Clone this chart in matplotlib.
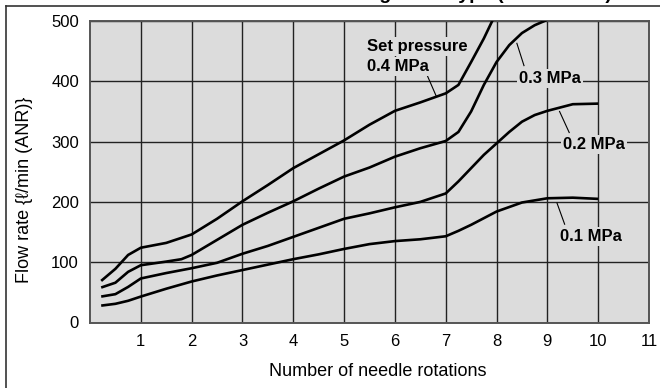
"""Flow rate vs. number of needle rotations, four set pressures."""
import matplotlib
matplotlib.use("Agg")
import matplotlib.pyplot as plt
from matplotlib.lines import Line2D

plt.rcParams["font.family"] = ["Liberation Sans", "DejaVu Sans"]

# --- data ---
x_01 = [0.22, 0.5, 0.75, 1.0, 1.5, 2.0, 2.5, 3.0, 3.5, 4.0, 4.5, 5.0, 5.5, 6.0, 6.5,
        7.0, 7.25, 7.5, 7.75, 8.0, 8.5, 9.0, 9.5, 10.0]
y_01 = [28, 31, 36, 43, 56, 68, 78, 87, 96, 105, 113, 122, 130, 135, 138,
        143, 152, 162, 173, 184, 199, 206, 207, 205]

x_02 = [0.22, 0.5, 0.75, 1.0, 1.5, 2.0, 2.5, 3.0, 3.5, 4.0, 4.5, 5.0, 5.5, 6.0, 6.5,
        7.0, 7.25, 7.5, 7.75, 8.0, 8.25, 8.5, 8.75, 9.0, 9.5, 10.0]
y_02 = [43, 47, 59, 73, 82, 90, 99, 114, 127, 142, 157, 172, 181, 191, 200,
        214, 234, 256, 278, 297, 316, 333, 344, 351, 362, 363]

x_03 = [0.22, 0.5, 0.75, 1.0, 1.5, 1.8, 2.0, 2.5, 3.0, 3.5, 4.0, 4.5, 5.0, 5.5, 6.0,
        6.5, 7.0, 7.25, 7.5, 7.75, 8.0, 8.25, 8.5, 8.75, 9.0]
y_03 = [58, 66, 84, 95, 101, 105, 112, 137, 162, 182, 201, 222, 242, 257, 275,
        289, 301, 316, 350, 394, 432, 460, 480, 493, 502]

x_04 = [0.22, 0.5, 0.75, 1.0, 1.5, 2.0, 2.5, 3.0, 3.5, 4.0, 4.5, 5.0, 5.5, 6.0, 6.5,
        7.0, 7.25, 7.5, 7.75, 8.0]
y_04 = [69, 89, 112, 124, 132, 146, 172, 201, 228, 256, 279, 302, 328, 351, 365,
        380, 394, 432, 471, 515]

x_ticks = list(range(1, 12))
y_ticks = [0, 100, 200, 300, 400, 500]

BG = "#dcdcdc"


def main():
    fig = plt.figure(figsize=(6.6, 3.88), dpi=100)
    ax = fig.add_axes([90 / 660, 1 - 322.5 / 388, 559 / 660, 301.5 / 388])
    ax.set_facecolor(BG)

    for xs, ys in [(x_01, y_01), (x_02, y_02), (x_03, y_03), (x_04, y_04)]:
        ax.plot(xs, ys, color="black", lw=1.9, solid_capstyle="butt", zorder=3)

    ax.set_xlim(0, 11); ax.set_ylim(0, 500)
    ax.set_xticks(x_ticks); ax.set_yticks(y_ticks)
    ax.tick_params(length=0, labelsize=12, pad=8)
    ax.tick_params(axis="y", pad=8)
    ax.grid(True, color="#222222", lw=1.0)
    ax.set_axisbelow(True)
    for s in ax.spines.values():
        s.set_color("#555555"); s.set_linewidth(1.4)

    # curve labels + leader lines
    box = dict(facecolor=BG, edgecolor="none", pad=1.5)
    kw = dict(fontsize=12, fontweight="bold", zorder=4)
    ax.text(5.45, 450, "Set pressure", ha="left", va="baseline", bbox=box, **kw)
    ax.text(5.45, 417, "0.4 MPa", ha="left", va="baseline", bbox=box, **kw)
    ax.text(9.06, 397, "0.3 MPa", ha="center", va="baseline", bbox=box, **kw)
    ax.text(9.92, 288, "0.2 MPa", ha="center", va="baseline", bbox=box, **kw)
    ax.text(9.86, 135, "0.1 MPa", ha="center", va="baseline", bbox=box, **kw)
    for (xa, ya), (xb, yb) in [((6.64, 409), (6.81, 376)), ((8.40, 463), (8.54, 426)),
                               ((9.24, 350), (9.43, 315)), ((9.19, 198), (9.34, 163))]:
        ax.plot([xa, xb], [ya, yb], color="black", lw=0.8, zorder=3)

    fig.text(378 / 660, 1 - 372 / 388, "Number of needle rotations", ha="center", va="center", fontsize=13)
    fig.text(25 / 660, 1 - 190 / 388, "Flow rate {ℓ/min (ANR)}", rotation=90,
             ha="center", va="center", fontsize=13)

    # title is cut off by the crop, only descenders show
    fig.text(612 / 660, 1 + 1 / 388, "Flow Rate Characteristics: Large flow type (AR40-X425)",
             ha="right", va="baseline", fontsize=14, fontweight="bold")

    # frame of the cropped page
    fig.add_artist(Line2D([6 / 660, 1], [1 - 5.5 / 388] * 2, color="#333333", lw=1.2))
    fig.add_artist(Line2D([6 / 660] * 2, [0, 1 - 5.5 / 388], color="#333333", lw=1.2))

    fig.savefig("out.png", dpi=100)
    plt.close(fig)


if __name__ == "__main__":
    main()
